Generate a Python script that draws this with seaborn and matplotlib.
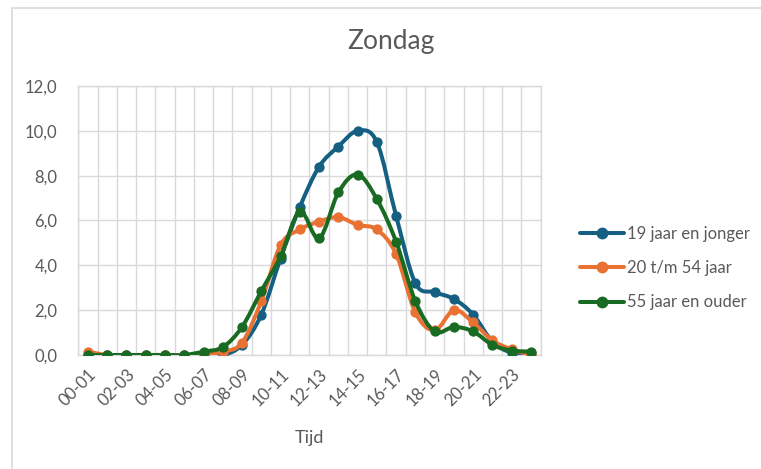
import matplotlib
matplotlib.use("Agg")
import matplotlib.pyplot as plt
from matplotlib.path import Path
from matplotlib.patches import PathPatch, Rectangle
from matplotlib.lines import Line2D
import seaborn as sns
import pandas as pd

# categorieën (uren) en waarden per leeftijdsgroep
uren = [f"{h:02d}-{h + 1:02d}" for h in range(24)]
jong = [0, 0, 0, 0, 0, 0, 0, 0, 0.45, 1.8, 4.3, 6.6, 8.4, 9.3, 10.0, 9.5,
        6.2, 3.2, 2.8, 2.5, 1.8, 0.6, 0.1, 0.1]
midden = [0.15, 0, 0, 0, 0, 0, 0.05, 0.15, 0.55, 2.4, 4.9, 5.6, 5.95, 6.15,
          5.8, 5.6, 4.5, 1.9, 1.1, 2.0, 1.45, 0.65, 0.25, 0.0]
oud = [0, 0, 0, 0, 0, 0, 0.15, 0.35, 1.25, 2.85, 4.4, 6.4, 5.2, 7.25, 8.05,
       6.95, 5.05, 2.4, 1.05, 1.25, 1.05, 0.45, 0.2, 0.15]
reeksen = ["19 jaar en jonger", "20 t/m 54 jaar", "55 jaar en ouder"]
kleuren = ["#156082", "#E97132", "#196B24"]
y_ticks = [0, 2, 4, 6, 8, 10, 12]

sns.set_style("white")
plt.rcParams["font.family"] = ["Lato", "DejaVu Sans"]
grijs = "#595959"


def smooth_path(x, y):
    """Excel-achtige gladde lijn (Catmull-Rom als Bezier)."""
    n = len(x)
    verts = [(x[0], y[0])]
    codes = [Path.MOVETO]
    for i in range(n - 1):
        p0 = i - 1 if i > 0 else i
        p3 = i + 2 if i + 2 < n else i + 1
        c1 = (x[i] + (x[i + 1] - x[p0]) / 6, y[i] + (y[i + 1] - y[p0]) / 6)
        c2 = (x[i + 1] - (x[p3] - x[i]) / 6, y[i + 1] - (y[p3] - y[i]) / 6)
        verts += [c1, c2, (x[i + 1], y[i + 1])]
        codes += [Path.CURVE4] * 3
    return Path(verts, codes)


fig = plt.figure(figsize=(7.61, 4.69), dpi=100)
ax = fig.add_axes([78.3 / 761, 114 / 469, 462.3 / 761, 269 / 469])

df = pd.DataFrame({"pos": range(len(uren)), "uur": uren,
                   reeksen[0]: jong, reeksen[1]: midden, reeksen[2]: oud})

for k, (naam, kleur) in enumerate(zip(reeksen, kleuren)):
    patch = PathPatch(smooth_path(list(df["pos"]), list(df[naam])),
                      facecolor="none", edgecolor=kleur, lw=2.9,
                      capstyle="round", joinstyle="round", zorder=3 + k)
    ax.add_patch(patch)
    sns.scatterplot(data=df, x="pos", y=naam, ax=ax, color=kleur, s=55,
                    linewidth=0, zorder=3.5 + k, legend=False)

ax.set_xlim(-0.5, 23.5)
ax.set_ylim(0, 12)
ax.set_yticks(y_ticks)
ax.set_yticklabels([f"{v:.1f}".replace(".", ",") for v in y_ticks],
                   fontsize=12, color=grijs)
ax.set_xticks(range(0, 24, 2))
ax.set_xticklabels(uren[::2], rotation=45, ha="right", va="top",
                   rotation_mode="anchor", fontsize=12, color=grijs)
ax.set_xticks([i - 0.5 for i in range(25)], minor=True)
ax.tick_params(axis="both", which="both", length=0)
ax.tick_params(axis="y", pad=15)
ax.tick_params(axis="x", pad=8)
ax.grid(True, which="minor", axis="x", color="#d9d9d9", lw=1)
ax.grid(True, which="major", axis="y", color="#d9d9d9", lw=1)
ax.set_axisbelow(True)
for s in ax.spines.values():
    s.set_color("#d9d9d9")
    s.set_linewidth(1)
ax.set_xlabel("Tijd", fontsize=13, color=grijs, labelpad=15)
ax.set_ylabel("")

fig.text(391 / 761, 1 - 41 / 469, "Zondag", ha="center", va="center",
         fontsize=19, color=grijs)

# kader rond de grafiek
fig.patches.append(Rectangle((12 / 761, -0.1), 1.2, 1 - 8 / 469 + 0.1,
                             transform=fig.transFigure, fill=False,
                             edgecolor="#d9d9d9", lw=1.2))

handles = [Line2D([], [], color=c, lw=2.9, marker="o", markersize=7.5)
           for c in kleuren]
leg = fig.legend(handles, reeksen, loc="center left",
                 bbox_to_anchor=(572 / 761, 1 - 268 / 469), frameon=False,
                 fontsize=12, handlelength=2.6, handletextpad=0.2,
                 labelspacing=1.1, borderpad=0)
for t in leg.get_texts():
    t.set_color(grijs)

fig.savefig("out.png", dpi=100)
plt.close(fig)
